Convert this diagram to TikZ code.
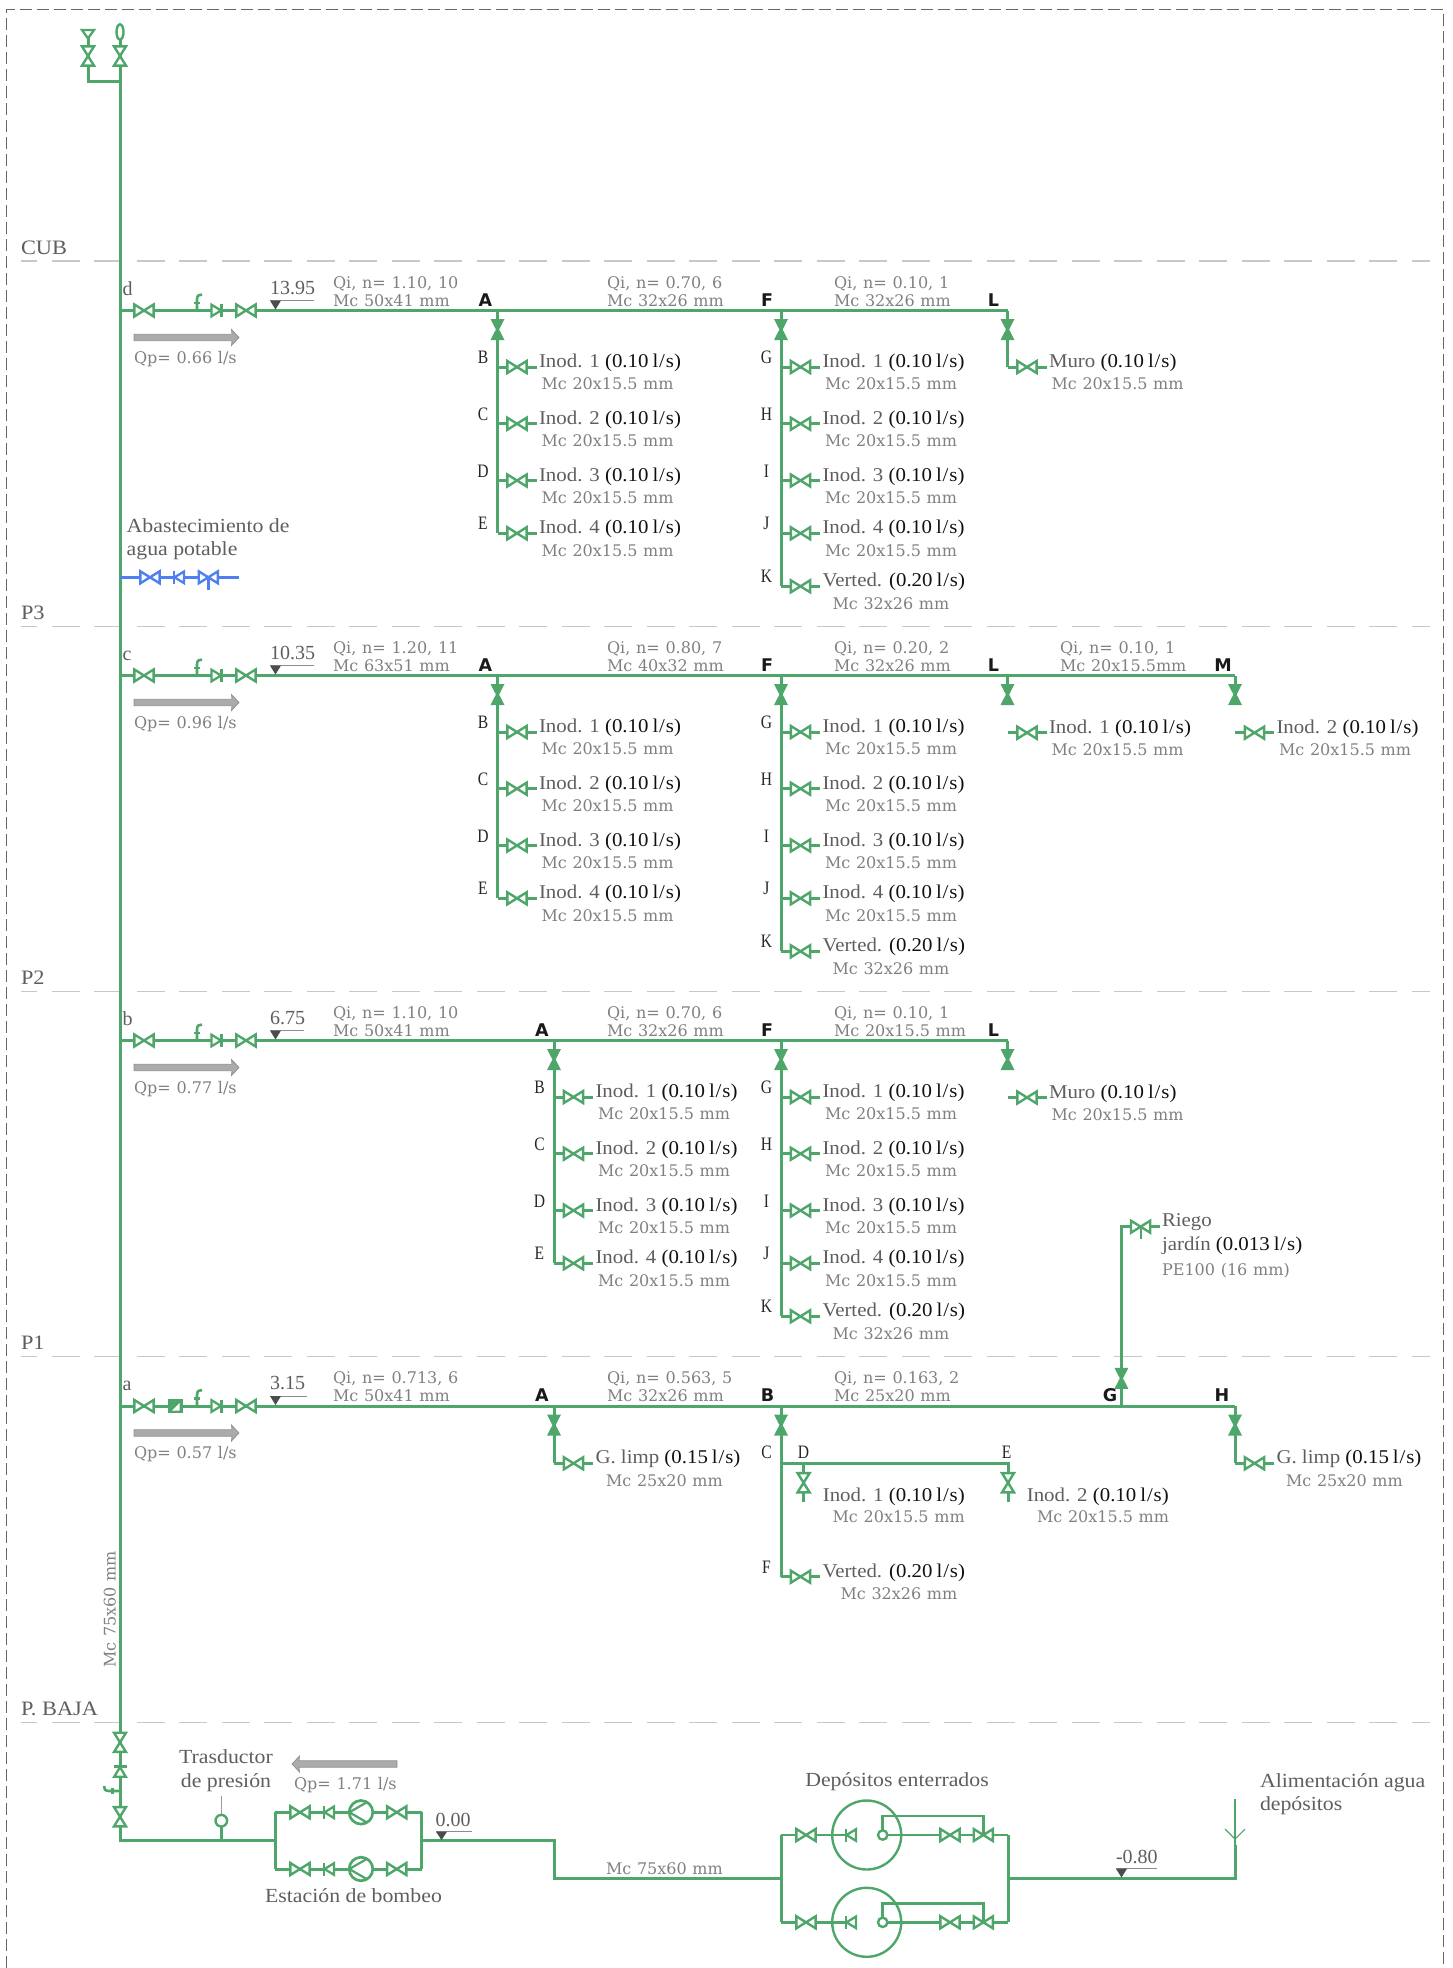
\documentclass[tikz,border=0pt]{standalone}
\usepackage{fontspec}
\setmainfont[FakeStretch=1.07]{Liberation Serif}
\setsansfont{DejaVu Sans}
\newfontfamily\mcfont{DejaVu Serif}
\newfontfamily\qifont[WordSpace=1.12]{DejaVu Serif}
\newfontfamily\letfont[FakeStretch=0.82]{Liberation Serif}
\newfontfamily\elevfont{Liberation Serif}
\newfontfamily\labfont[FakeStretch=1.09]{Liberation Serif}
\definecolor{pipec}{HTML}{4FA66A}
\definecolor{bluec}{HTML}{5080F0}
\definecolor{mcgray}{HTML}{808080}
\definecolor{darkt}{HTML}{5E5E5E}
\definecolor{qtyc}{HTML}{111111}
\definecolor{secl}{HTML}{C8C8C8}
\definecolor{arrf}{HTML}{ABABAB}
\definecolor{arrd}{HTML}{8E8E8E}
\colorlet{cur}{pipec}
\tikzset{
  x=1pt,y=-1pt,
  pipe/.style={draw=cur,line width=3pt,line join=miter},
  thinpipe/.style={draw=cur,line width=2pt},
  valveh/.pic={\draw[draw=cur,fill=white,line width=2.4pt,line join=miter] (-9.6,-6)--(9.6,6)--(9.6,-6)--(-9.6,6)--cycle;},
  valvev/.pic={\draw[draw=cur,fill=white,line width=2.4pt,line join=miter] (-6,-9.6)--(6,9.6)--(-6,9.6)--(6,-9.6)--cycle;},
  valvef/.pic={\fill[cur] (-7,-10.5)--(7,-10.5)--(1.6,0)--(7,10.5)--(-7,10.5)--(-1.6,0)--cycle;},
  checkr/.pic={\draw[draw=cur,fill=white,line width=2.3pt,line join=miter] (-5,-5.8)--(4.5,0)--(-5,5.8)--cycle;\draw[draw=cur,line width=2.5pt] (5,-6.5)--(5,6.5);},
  effe/.pic={\draw[draw=cur,line width=2.6pt] (0,0)--(0,-11) .. controls (0,-15) and (2,-16) .. (5,-16);\draw[draw=cur,line width=2.3pt] (-3,-7.5)--(3,-7.5);},
  grayarrow/.pic={\draw[draw=arrd,fill=arrf,line width=.7pt] (0,-3.2)--(98,-3.2)--(97.5,-8)--(105,0)--(97.5,8)--(98,3.2)--(0,3.2)--cycle;},
  mcs/.style={font=\mcfont\fontsize{16}{18}\selectfont,text=mcgray,anchor=base west,inner sep=0pt,outer sep=0pt},
  qis/.style={mcs,font=\qifont\fontsize{16.03}{18}\selectfont},
  mts/.style={font=\fontsize{19.5}{22}\selectfont,text=darkt,anchor=base west,inner sep=0pt,outer sep=0pt},
  labs/.style={font=\labfont\fontsize{20}{22}\selectfont,text=darkt,anchor=base west,inner sep=0pt,outer sep=0pt},
  elevs/.style={font=\elevfont\fontsize{20}{22}\selectfont,text=darkt,anchor=base west,inner sep=0pt,outer sep=0pt},
  lets/.style={font=\letfont\fontsize{19}{22}\selectfont,text=black!85,anchor=base,inner sep=0pt,outer sep=0pt},
  bolds/.style={font=\sffamily\bfseries\fontsize{17.5}{20}\selectfont,text=black!90,anchor=base,inner sep=0pt,outer sep=0pt},
  lvl/.style={draw=black!45,line width=1pt},
  sectln/.style={draw=secl,line width=1.3pt,dash pattern=on 28pt off 14.5pt,dash phase=11.7pt},
  framel/.style={draw=black!60,line width=1pt,dash pattern=on 12pt off 5pt},
}
% section line and label
\newcommand{\sectline}[3]{\coordinate (#1-a) at (21,#2);\coordinate (#1-b) at (1430,#2);\draw[sectln] (#1-a)--(#1-b);\node[elevs,font=\labfont\fontsize{20.5}{24}\selectfont] (#1-t) at (21,{#2-7}) {#3};}
\newcommand{\qtytxt}[1]{{\color{qtyc}(#1\kern4pt l\kern.9pt/\kern.9pt s)}}
% leaf: id, branch x, y, main, qty, sub, sub offset
\newcommand{\leaf}[7]{
  \coordinate (#1-j) at (#2,{#3});\coordinate (#1-e) at ({#2+39},{#3});
  \draw[pipe] (#1-j)--(#1-e);
  \pic at ({#2+19.5},{#3}) {valveh};
  \node[mts] (#1-t) at ({#2+41.5},{#3+0.5}) {#4 \qtytxt{#5}};
  \node[mcs] (#1-s) at ({#2+#7},{#3+22.8}) {#6};
}
\newcommand{\blet}[4]{\node[lets] (#1) at ({#2-14.5},{#3-3.5}) {#4};}
% branch: id, x, row y, bottom y
\newcommand{\branch}[4]{
  \coordinate (#1-t) at (#2,#3);\coordinate (#1-b) at (#2,{#4});
  \draw[pipe] (#1-t)--(#1-b);
  \pic at (#2,{#3+19}) {valvef};
}
\newcommand{\qilab}[5]{
  \node[qis] (#1-q) at (#2,{#3-22.5}) {#4};
  \node[mcs] (#1-m) at (#2,{#3-4.5}) {#5};
}
% column of four WCs: id, x, row, 4 letters
\newcommand{\colfour}[7]{
  \branch{#1}{#2}{#3}{#3+222.8}
  \leaf{#1a}{#2}{#3+56.5}{Inod. 1}{0.10}{Mc 20x15.5 mm}{44}\blet{#1al}{#2}{#3+56.5}{#4}
  \leaf{#1b}{#2}{#3+113.2}{Inod. 2}{0.10}{Mc 20x15.5 mm}{44}\blet{#1bl}{#2}{#3+113.2}{#5}
  \leaf{#1c}{#2}{#3+170}{Inod. 3}{0.10}{Mc 20x15.5 mm}{44}\blet{#1cl}{#2}{#3+170}{#6}
  \leaf{#1d}{#2}{#3+222.8}{Inod. 4}{0.10}{Mc 20x15.5 mm}{44}\blet{#1dl}{#2}{#3+222.8}{#7}
}
% column F: id,x,row : G..K with Verted
\newcommand{\colfive}[3]{
  \branch{#1}{#2}{#3}{#3+275.8}
  \leaf{#1a}{#2}{#3+56.5}{Inod. 1}{0.10}{Mc 20x15.5 mm}{44}\blet{#1al}{#2}{#3+56.5}{G}
  \leaf{#1b}{#2}{#3+113.2}{Inod. 2}{0.10}{Mc 20x15.5 mm}{44}\blet{#1bl}{#2}{#3+113.2}{H}
  \leaf{#1c}{#2}{#3+170}{Inod. 3}{0.10}{Mc 20x15.5 mm}{44}\blet{#1cl}{#2}{#3+170}{I}
  \leaf{#1d}{#2}{#3+222.8}{Inod. 4}{0.10}{Mc 20x15.5 mm}{44}\blet{#1dl}{#2}{#3+222.8}{J}
  \leaf{#1e}{#2}{#3+275.8}{Verted.}{0.20}{Mc 32x26 mm}{51.5}\blet{#1el}{#2}{#3+275.8}{K}
}
% row header: id, y, end x, letter, elevation, lvl end, Qp
\newcommand{\rowhead}[7]{
  \coordinate (#1-s) at (120,#2);\coordinate (#1-e) at (#3,#2);
  \draw[pipe] (#1-s)--(#1-e);
  \node[elevs] (#1-l) at (122.7,{#2-15.5}) {#4};
  \pic at (144,#2) {valveh};
  \pic at (197,#2) {effe};
  \pic at (216.5,#2) {checkr};
  \pic at (246,#2) {valveh};
  \coordinate (#1-la) at (270,{#2-10});\coordinate (#1-lb) at (#6,{#2-10});
  \draw[lvl] (#1-la)--(#1-lb);
  \fill[black!70] (270,{#2-10})--(281,{#2-10})--(275.5,{#2-1})--cycle;
  \node[elevs] (#1-v) at (270,{#2-16.5}) {#5};
  \pic at (134,{#2+27}) {grayarrow};
  \node[qis] (#1-p) at (134,{#2+52.5}) {Qp= #7 l/s};
}
\newcommand{\pumpline}[2]{
  \coordinate (#1-a) at (275.3,#2);\coordinate (#1-b) at (421.7,#2);
  \draw[pipe] (#1-a)--(#1-b);
  \pic at (300,#2) {valveh};
  \pic[rotate=180] at (329,#2) {checkr};
  \draw[draw=cur,fill=white,line width=2.7pt] (361,#2) circle[radius=11.8];
  \draw[draw=cur,line width=2.2pt,line join=miter] (367,{#2-10.2})--(349.4,#2)--(367,{#2+10.2});
  \pic at (396.7,#2) {valveh};
}
\newcommand{\tank}[2]{
  \coordinate (#1-a) at (781.3,#2);\coordinate (#1-c) at (846,#2);
  \coordinate (#1-o) at (882.7,#2);\coordinate (#1-b) at (1008.3,#2);
  \coordinate (#1-u) at (882.7,{#2-19});\coordinate (#1-v) at (983.3,{#2-19});\coordinate (#1-w) at (983.3,#2);
  \draw[draw=cur,line width=2.4pt] (866.7,#2) circle[radius=34.5];
  \draw[pipe,line width=2.6pt] (#1-a)--(#1-c);
  \draw[pipe,line width=2.6pt] (#1-o)--(#1-b);
  \draw[pipe,line width=2.6pt] (#1-o)--(#1-u)--(#1-v)--(#1-w);
  \draw[draw=cur,fill=white,line width=2.4pt] (#1-o) circle[radius=4.7];
  \pic at (806,#2) {valveh};
  \pic[rotate=180] at (851,#2) {checkr};
  \pic at (950,#2) {valveh};
  \pic at (983.3,#2) {valveh};
}
\begin{document}
\begin{tikzpicture}
\useasboundingbox (0,0) rectangle (1453,1968);
% frame
\coordinate (fa1) at (6.3,1968);
\coordinate (fa2) at (6.3,9.5);
\coordinate (fa3) at (1443,9.5);
\coordinate (fa4) at (1443,1968);
\draw[framel] (fa1)--(fa2)--(fa3)--(fa4);
% sections
\sectline{cub}{261}{CUB}
\sectline{pt}{626.5}{P3}
\sectline{pd}{991.5}{P2}
\sectline{pu}{1356.5}{P1}
\sectline{pb}{1722.7}{P. BAJA}
% riser and top
\coordinate (riseT) at (120,39);
\coordinate (riseB) at (120,1840.7);
\coordinate (riseC) at (275.3,1840.7);
\coordinate (ventT) at (120,81);
\coordinate (ventL) at (88,81);
\coordinate (ventU) at (88,38);
\draw[pipe] (riseT)--(riseB)--(riseC);
\draw[pipe] (ventT)--(ventL)--(ventU);
\pic at (120,56) {valvev};
\pic at (88,56) {valvev};
\draw[draw=cur,fill=white,line width=2.4pt] (120,32) ellipse[x radius=3.5,y radius=7.7];
\draw[draw=cur,fill=white,line width=2.3pt,line join=miter] (82,30)--(94,30)--(88,38.5)--cycle;
\node[mcs,rotate=90,anchor=base] (risertxt) at (115.5,1609.5) {Mc 75x60 mm};
% CUB row
\rowhead{d}{310.5}{1007.5}{d}{13.95}{314}{0.66}
\qilab{d1}{333}{310.5}{Qi, n= 1.10, 10}{Mc 50x41 mm}
\qilab{d2}{607}{310.5}{Qi, n= 0.70, 6}{Mc 32x26 mm}
\qilab{d3}{834}{310.5}{Qi, n= 0.10, 1}{Mc 32x26 mm}
\node[bolds] (dA) at (485.5,306) {A};\node[bolds] (dF) at (767,306) {F};\node[bolds] (dL) at (993.5,306) {L};
\colfour{dA1}{497.5}{310.5}{B}{C}{D}{E}
\colfive{dF1}{781}{310.5}
\branch{dL1}{1007.5}{310.5}{367}
\leaf{dL2}{1007.5}{367}{Muro}{0.10}{Mc 20x15.5 mm}{44}
% water supply
\node[labs] (ab1) at (126.7,532) {Abastecimiento de};
\node[labs] (ab2) at (126.7,555) {agua potable};
\begin{scope}
\colorlet{cur}{bluec}
\coordinate (w1) at (120,577.3);\coordinate (w2) at (239,577.3);\coordinate (w3) at (208.3,590);
\draw[pipe] (w1)--(w2);
\draw[draw=cur,line width=2.4pt] (208.3,577.3)--(w3);
\pic at (150,577.3) {valveh};
\pic[rotate=180] at (179,577.3) {checkr};
\pic at (208.3,577.3) {valveh};
\end{scope}
% P3 row
\rowhead{c}{675.5}{1235}{c}{10.35}{314}{0.96}
\qilab{c1}{333}{675.5}{Qi, n= 1.20, 11}{Mc 63x51 mm}
\qilab{c2}{607}{675.5}{Qi, n= 0.80, 7}{Mc 40x32 mm}
\qilab{c3}{834}{675.5}{Qi, n= 0.20, 2}{Mc 32x26 mm}
\qilab{c4}{1060}{675.5}{Qi, n= 0.10, 1}{Mc 20x15.5mm}
\node[bolds] (cA) at (485.5,671) {A};\node[bolds] (cF) at (767,671) {F};\node[bolds] (cL) at (993.5,671) {L};\node[bolds] (cM) at (1223,671) {M};
\colfour{cA1}{497.5}{675.5}{B}{C}{D}{E}
\colfive{cF1}{781}{675.5}
\branch{cL1}{1007.5}{675.5}{705}
\leaf{cL2}{1007.5}{732.7}{Inod. 1}{0.10}{Mc 20x15.5 mm}{44}
\branch{cM1}{1235}{675.5}{705}
\leaf{cM2}{1235}{732.7}{Inod. 2}{0.10}{Mc 20x15.5 mm}{44}
% P2 row
\rowhead{b}{1040.5}{1007.5}{b}{6.75}{304}{0.77}
\qilab{b1}{333}{1040.5}{Qi, n= 1.10, 10}{Mc 50x41 mm}
\qilab{b2}{607}{1040.5}{Qi, n= 0.70, 6}{Mc 32x26 mm}
\qilab{b3}{834}{1040.5}{Qi, n= 0.10, 1}{Mc 20x15.5 mm}
\node[bolds] (bA) at (542,1036) {A};\node[bolds] (bF) at (767,1036) {F};\node[bolds] (bL) at (993.5,1036) {L};
\colfour{bA1}{554}{1040.5}{B}{C}{D}{E}
\colfive{bF1}{781}{1040.5}
\branch{bL1}{1007.5}{1040.5}{1070}
\leaf{bL2}{1007.5}{1097.5}{Muro}{0.10}{Mc 20x15.5 mm}{44}
% P1 row
\rowhead{a}{1406}{1235}{a}{3.15}{306.7}{0.57}
\fill[cur] (168,1398.7) rectangle (182.6,1413.3);
\fill[white] (179.5,1403)--(179.5,1410.5)--(172,1410.5)--cycle;
\qilab{a1}{333}{1406}{Qi, n= 0.713, 6}{Mc 50x41 mm}
\qilab{a2}{607}{1406}{Qi, n= 0.563, 5}{Mc 32x26 mm}
\qilab{a3}{834}{1406}{Qi, n= 0.163, 2}{Mc 25x20 mm}
\node[bolds] (aA) at (542,1401.5) {A};\node[bolds] (aB) at (767.5,1401.5) {B};\node[bolds] (aG) at (1110,1401.5) {G};\node[bolds] (aH) at (1222,1401.5) {H};
\branch{aA1}{554}{1406}{1463.3}
\leaf{aA2}{554}{1463.3}{G. limp}{0.15}{Mc 25x20 mm}{52}
\branch{aB1}{781}{1406}{1576.7}
\leaf{aB2}{781}{1576.7}{Verted.}{0.20}{Mc 32x26 mm}{59.5}
\blet{aBl}{781}{1576.7}{F}
\blet{aCl}{781}{1462}{C}
\coordinate (aj) at (781,1463.3);\coordinate (ak) at (1008,1463.3);
\coordinate (ad) at (803.6,1463.3);\coordinate (adb) at (803.6,1501.7);\coordinate (aeb) at (1008,1501.7);
\draw[pipe] (aj)--(ak)--(aeb);
\draw[pipe] (ad)--(adb);
\pic at (803.6,1482.7) {valvev};
\pic at (1008,1482.7) {valvev};
\node[lets] (aDl) at (803.6,1458.5) {D};
\node[lets] (aEl) at (1006.7,1458.5) {E};
\node[mts] (aI1) at (822.8,1501) {Inod. 1 \qtytxt{0.10}};
\node[mcs] (aI1m) at (832.6,1522) {Mc 20x15.5 mm};
\node[mts] (aI2) at (1026.8,1501) {Inod. 2 \qtytxt{0.10}};
\node[mcs] (aI2m) at (1037,1522) {Mc 20x15.5 mm};
\branch{aH1}{1235}{1406}{1463.3}
\leaf{aH2}{1235}{1463.3}{G. limp}{0.15}{Mc 25x20 mm}{51}
% Riego
\coordinate (rg1) at (1121.4,1406);\coordinate (rg2) at (1121.4,1226.7);\coordinate (rg3) at (1160,1226.7);\coordinate (rg4) at (1140.6,1239);
\draw[pipe] (rg1)--(rg2)--(rg3);
\draw[draw=cur,line width=2.2pt] (1140.6,1226.7)--(rg4);
\pic at (1121.4,1378.3) {valvef};
\pic at (1140.6,1226.7) {valveh};
\node[mts] (rgt1) at (1162,1226) {Riego};
\node[mts] (rgt2) at (1162,1250) {jardín \qtytxt{0.013}};
\node[qis] (rgt3) at (1162,1275.5) {PE100 (16 mm)};
% Bottom vertical fittings
\pic at (120,1742.3) {valvev};
\pic[rotate=90] at (120,1771.7) {checkr};
\pic[rotate=90] at (120,1791) {effe};
\pic at (120,1816.7) {valvev};
% transducer
\coordinate (tr1) at (221.3,1840.7);\coordinate (tr2) at (221.3,1820.7);\coordinate (tr3) at (221.3,1795.7);
\draw[pipe,line width=2.6pt] (tr1)--(tr2);
\draw[draw=black!40,line width=.8pt] (221.3,1814)--(tr3);
\draw[draw=cur,fill=white,line width=2.4pt] (tr2) circle[radius=5.8];
\node[labs,anchor=base] (trt1) at (226,1763) {Trasductor};
\node[labs,anchor=base] (trt2) at (226,1787) {de presión};
\pic[rotate=180] at (397,1764) {grayarrow};
\node[qis] (qpb) at (294,1789.5) {Qp= 1.71 l/s};
% pump station
\coordinate (ps1) at (275.3,1812.3);\coordinate (ps2) at (275.3,1869);\coordinate (ps3) at (421.7,1812.3);\coordinate (ps4) at (421.7,1869);
\draw[pipe] (ps1)--(ps2);\draw[pipe] (ps3)--(ps4);
\pumpline{p1}{1812.3}
\pumpline{p2}{1869}
\node[labs,anchor=base] (pst) at (353.5,1902) {Estación de bombeo};
% line to tanks
\coordinate (m1) at (421.7,1840.7);\coordinate (m2) at (554,1840.7);\coordinate (m3) at (554,1878.5);\coordinate (m4) at (781.3,1878.5);
\draw[pipe] (m1)--(m2)--(m3)--(m4);
\coordinate (l0a) at (436,1831.7);\coordinate (l0b) at (472,1831.7);
\draw[lvl] (l0a)--(l0b);
\fill[black!70] (436,1831.7)--(447,1831.7)--(441.5,1840)--cycle;
\node[elevs] (l0t) at (435.7,1826) {0.00};
\node[mcs] (mcb) at (606,1874) {Mc 75x60 mm};
% tanks
\tank{t1}{1835}
\tank{t2}{1922.3}
\coordinate (bs1) at (781.3,1835);\coordinate (bs2) at (781.3,1922.3);\coordinate (bs3) at (1008.3,1835);\coordinate (bs4) at (1008.3,1922.3);
\draw[pipe] (bs1)--(bs2);\draw[pipe] (bs3)--(bs4);
\node[labs,anchor=base] (tkt) at (897,1786) {Depósitos enterrados};
% supply
\coordinate (s1) at (1008.3,1878.5);\coordinate (s2) at (1235,1878.5);\coordinate (s3) at (1235,1799);\coordinate (s4) at (1235,1839);\coordinate (s5) at (1235,1845);
\draw[pipe] (s1)--(s2)--(s5);
\draw[thinpipe] (s5)--(s3);
\draw[draw=cur,line width=1.1pt] (1225,1829)--(s4)--(1245,1829);
\coordinate (l1a) at (1116,1868.7);\coordinate (l1b) at (1157,1868.7);
\draw[lvl] (l1a)--(l1b);
\fill[black!70] (1116,1868.7)--(1127,1868.7)--(1121.5,1877.5)--cycle;
\node[elevs] (l1t) at (1116,1863) {-0.80};
\node[labs] (al1) at (1260,1787) {Alimentación agua};
\node[labs] (al2) at (1260,1810) {depósitos};
\end{tikzpicture}
\end{document}
